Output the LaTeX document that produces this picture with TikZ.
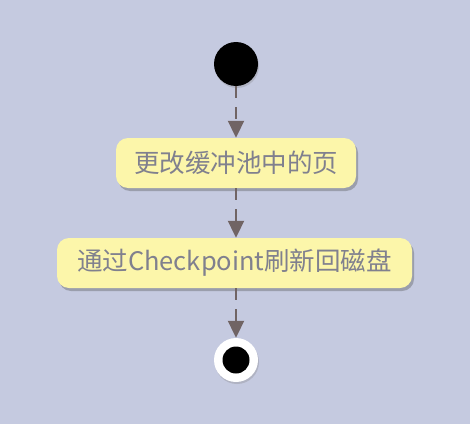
\documentclass[tikz,border=0pt]{standalone}
\usepackage{fontspec}
\newfontfamily\cjk{Noto Sans CJK SC}
\usetikzlibrary{arrows.meta,shadows}
\definecolor{bgc}{RGB}{197,202,224}
\definecolor{boxc}{RGB}{252,246,170}
\definecolor{txtc}{RGB}{128,128,142}
\definecolor{arrc}{RGB}{112,100,100}
\tikzset{
  act/.style={draw=none, fill=boxc, rounded corners=12pt, minimum height=50pt, inner sep=0pt,
    text=txtc, font=\cjk\fontsize{25.5}{28}\selectfont,
    drop shadow={opacity=0.35, shadow xshift=2pt, shadow yshift=-3pt, fill=black!70}},
  flow/.style={draw=arrc, line width=2pt, dash pattern=on 12pt off 9pt,
    -{Triangle[width=16pt,length=17pt]}},
}
\begin{document}
\begin{tikzpicture}[x=1pt,y=1pt]
\fill[bgc] (0,0) rectangle (470,424);
\useasboundingbox (0,0) rectangle (470,424);
\node[circle, fill=black, minimum size=44pt, inner sep=0pt,
  drop shadow={opacity=0.3, shadow xshift=1pt, shadow yshift=-2pt}] (start) at (236,360) {};
\node[act, minimum width=240pt] (b1) at (236,261) {更改缓冲池中的页};
\node[act, minimum width=355pt] (b2) at (234.5,161) {通过Checkpoint刷新回磁盘};
\node[circle, fill=white, minimum size=44pt, inner sep=0pt,
  drop shadow={opacity=0.3, shadow xshift=1pt, shadow yshift=-2pt}] (end) at (236,64) {};
\node[circle, fill=black, minimum size=27pt, inner sep=0pt] (endin) at (end.center) {};
\draw[flow] (start.south) -- (b1.north);
\draw[flow] (b1.south) -- (b1.south |- b2.north);
\draw[flow] (b1.south |- b2.south) -- (end.north);
\end{tikzpicture}
\end{document}
